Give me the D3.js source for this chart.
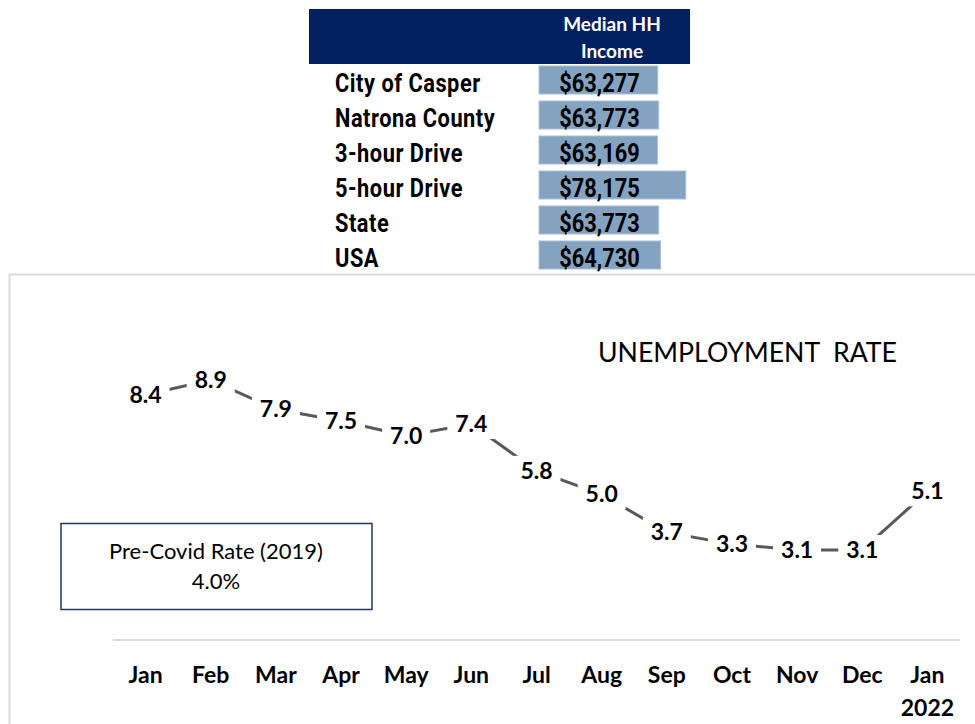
<!DOCTYPE html>
<html><head><meta charset="utf-8">
<script src="https://cdn.jsdelivr.net/npm/d3@7"></script>
<style>body{margin:0;background:#fff;}svg{display:block;}</style>
</head><body>
<svg id="c" width="975" height="724"></svg>
<script>
// ---- Data ----
const areas = ["City of Casper","Natrona County","3-hour Drive","5-hour Drive","State","USA"];
const incomes = [63277, 63773, 63169, 78175, 63773, 64730];
const incomeHeader = ["Median HH","Income"];

const months = ["Jan","Feb","Mar","Apr","May","Jun","Jul","Aug","Sep","Oct","Nov","Dec","Jan"];
const monthSub = ["","","","","","","","","","","","","2022"];
const rates = [8.4, 8.9, 7.9, 7.5, 7.0, 7.4, 5.8, 5.0, 3.7, 3.3, 3.1, 3.1, 5.1];
const chartTitle = "UNEMPLOYMENT  RATE";
const noteLines = ["Pre-Covid Rate (2019)", "4.0%"];

const svg = d3.select("#c");
const cond = "Roboto,'DejaVu Sans',sans-serif";
const sans = "Lato,'Open Sans',sans-serif";

// ---- Table ----
svg.append("rect").attr("x",309).attr("y",9).attr("width",381).attr("height",55).attr("fill","#002060");
svg.append("g").selectAll("text").data(incomeHeader).join("text")
  .attr("x",612).attr("y",(d,i)=>31+i*27).attr("text-anchor","middle")
  .attr("font-family",sans).attr("font-weight",700).attr("font-size",19).attr("fill","#fff").text(d=>d);

const rowY = d3.scaleBand().domain(d3.range(areas.length)).range([62.5,272.5]).paddingInner(0.2).paddingOuter(0.1);
const barX = d3.scaleLinear().domain([0, 78175]).range([539, 685.7]);

// condensed look: measure a probe string and squeeze horizontally
const fs = 25;
const probe = svg.append("text").attr("font-family",cond).attr("font-weight",700).attr("font-size",fs).text(areas[1]);
const sx = 153 / probe.node().getComputedTextLength();
probe.remove();

const rows = svg.append("g").selectAll("g").data(areas).join("g");
rows.append("rect")
  .attr("x",barX(0)).attr("y",(d,i)=>rowY(i))
  .attr("width",(d,i)=>barX(incomes[i])-barX(0)).attr("height",rowY.bandwidth())
  .attr("fill","#84a3c1").attr("stroke","#a9bfd4").attr("stroke-width",1);
rows.append("text")
  .attr("transform",(d,i)=>`translate(335,${rowY(i)+rowY.bandwidth()/2+12}) scale(${sx},1)`)
  .attr("font-family",cond).attr("font-weight",700).attr("font-size",fs).attr("fill","#000")
  .attr("letter-spacing",0.6)
  .text(d=>d);
rows.append("text")
  .attr("transform",(d,i)=>`translate(599.5,${rowY(i)+rowY.bandwidth()/2+12}) scale(${sx},1)`)
  .attr("text-anchor","middle")
  .attr("font-family",cond).attr("font-weight",700).attr("font-size",fs).attr("fill","#000")
  .text((d,i)=>d3.format("$,")(incomes[i]));

// ---- Line chart frame ----
svg.append("path").attr("d","M9.5,724 V274.5 H975").attr("fill","none").attr("stroke","#d9d9d9").attr("stroke-width",2);

const x = d3.scalePoint().domain(d3.range(months.length)).range([113,960]).padding(0.5);
const y = d3.scaleLinear().domain([0,10]).range([640.8,347.8]);

svg.append("line").attr("x1",113).attr("x2",960).attr("y1",640).attr("y2",640)
  .attr("stroke","#d9d9d9").attr("stroke-width",2);

svg.append("text").attr("x",747.5).attr("y",362).attr("text-anchor","middle")
  .attr("font-family",sans).attr("font-size",26).attr("fill","#000")
  .attr("textLength",299).attr("lengthAdjust","spacingAndGlyphs").style("white-space","pre")
  .text(chartTitle);

const line = d3.line().x((d,i)=>x(i)).y(d=>y(d));
svg.append("path").datum(rates).attr("d",line).attr("fill","none")
  .attr("stroke","#595959").attr("stroke-width",3);

const lbl = svg.append("g").selectAll("g").data(rates).join("g")
  .attr("transform",(d,i)=>`translate(${x(i)},${y(d)})`);
lbl.append("rect").attr("x",-24).attr("y",-15).attr("width",48).attr("height",30).attr("fill","#fff");
lbl.append("text").attr("text-anchor","middle").attr("y",8)
  .attr("font-family",sans).attr("font-weight",700).attr("font-size",23).attr("fill","#000")
  .text(d=>d.toFixed(1));

// month axis labels
svg.append("g").selectAll("text").data(months).join("text")
  .attr("x",(d,i)=>x(i)).attr("y",683).attr("text-anchor","middle")
  .attr("font-family",sans).attr("font-weight",700).attr("font-size",23).attr("fill","#000")
  .text(d=>d);
svg.append("g").selectAll("text").data(monthSub).join("text")
  .attr("x",(d,i)=>x(i)).attr("y",716).attr("text-anchor","middle")
  .attr("font-family",sans).attr("font-weight",700).attr("font-size",23).attr("fill","#000")
  .text(d=>d);

// note box
svg.append("rect").attr("x",61).attr("y",523.5).attr("width",311).attr("height",86)
  .attr("fill","#fff").attr("stroke","#1f3864").attr("stroke-width",1.5);
svg.append("g").selectAll("text").data(noteLines).join("text")
  .attr("x",216).attr("y",(d,i)=>559+i*30).attr("text-anchor","middle")
  .attr("font-family",sans).attr("font-size",22).attr("fill","#000").text(d=>d);
</script>
</body></html>
